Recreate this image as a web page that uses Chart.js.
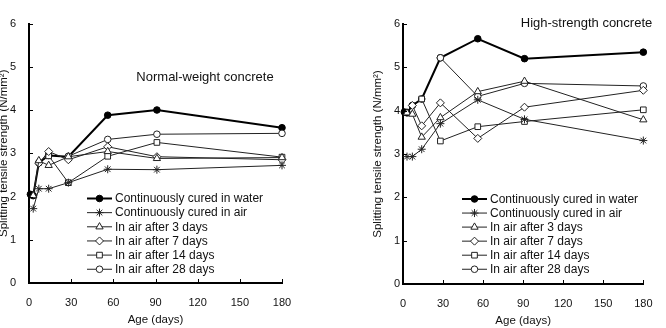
<!DOCTYPE html>
<html>
<head>
<meta charset="utf-8">
<script src="https://cdn.jsdelivr.net/npm/chart.js@4.4.1/dist/chart.umd.min.js"></script>
<style>
body{margin:0;width:666px;height:328px;overflow:hidden;background:#fff;position:relative}
.box{position:absolute;top:0}
</style>
</head>
<body>
<div class="box" style="left:-5px"><canvas id="c1" width="338" height="328"></canvas></div>
<div class="box" style="left:333px"><canvas id="c2" width="333" height="328"></canvas></div>
<script>
// legend labels
var labels = ["Continuously cured in water", "Continuously cured in air", "In air after 3 days",
	"In air after 7 days", "In air after 14 days", "In air after 28 days"];

// Normal-weight concrete (days / N/mm2)
var nwWaterDays = [1, 3, 7, 14, 28, 56, 91, 180];
var nwWater     = [2.05, 2.02, 2.78, 2.95, 2.92, 3.88, 4.0, 3.59];
var nwAirDays   = [3, 7, 14, 28, 56, 91, 180];
var nwAir       = [1.72, 2.18, 2.18, 2.32, 2.63, 2.62, 2.72];
var nwAir3Days  = [3, 7, 14, 28, 56, 91, 180];
var nwAir3      = [2.02, 2.83, 2.72, 2.92, 3.04, 2.88, 2.9];
var nwAir7Days  = [7, 14, 28, 56, 91, 180];
var nwAir7      = [2.77, 3.04, 2.85, 3.15, 2.92, 2.85];
var nwAir14Days = [14, 28, 56, 91, 180];
var nwAir14     = [2.94, 2.32, 2.93, 3.25, 2.91];
var nwAir28Days = [28, 56, 91, 180];
var nwAir28     = [2.93, 3.32, 3.44, 3.46];

// High-strength concrete
var hsWaterDays = [1, 3, 7, 14, 28, 56, 91, 180];
var hsWater     = [3.97, 3.95, 4.12, 4.27, 5.22, 5.66, 5.2, 5.35];
var hsAirDays   = [3, 7, 14, 28, 56, 91, 180];
var hsAir       = [2.94, 2.94, 3.11, 3.7, 4.25, 3.8, 3.31];
var hsAir3Days  = [3, 7, 14, 28, 56, 91, 180];
var hsAir3      = [3.95, 3.92, 3.39, 3.84, 4.44, 4.68, 3.79];
var hsAir7Days  = [7, 14, 28, 56, 91, 180];
var hsAir7      = [4.12, 3.65, 4.18, 3.36, 4.08, 4.47];
var hsAir14Days = [14, 28, 56, 91, 180];
var hsAir14     = [4.27, 3.3, 3.63, 3.75, 4.02];
var hsAir28Days = [28, 56, 91, 180];
var hsAir28     = [5.22, 4.33, 4.63, 4.57];

var xTicks = [0, 30, 60, 90, 120, 150, 180];
var yTicks = [0, 1, 2, 3, 4, 5, 6];

var styles = ["circle", "star", "triangle", "rectRot", "rect", "circle"];
var radii = [3.3, 4, 4.2, 4, 4, 3.3];

function pts(days, vals)
{
	return days.map(function(d, i){ return {x: d, y: vals[i]}; });
}

function makeSets(series)
{
	var sets = [];
	for(let i=0;i<series.length;i++)
	{
		sets.push({
			label: labels[i],
			data: pts(series[i][0], series[i][1]),
			borderColor: i == 0 ? "#000" : "#222",
			borderWidth: i == 0 ? 2 : 1,
			pointStyle: styles[i],
			pointRadius: radii[i],
			pointBorderWidth: 1,
			pointBorderColor: i == 0 ? "#000" : "#222",
			pointBackgroundColor: i == 0 ? "#000" : "#fff",
			tension: 0,
			clip: false,
			order: i == 0 ? 10 : 0
		});
	}
	return sets;
}

function marker(ctx, style, r, x, y)
{
	if(Chart.helpers && Chart.helpers.drawPoint)
	{
		Chart.helpers.drawPoint(ctx, {pointStyle: style, radius: r, rotation: 0, borderWidth: 1}, x, y);
		return;
	}
	ctx.beginPath();
	ctx.arc(x, y, r, 0, Math.PI*2);
	ctx.fill();
	ctx.stroke();
}

// inward ticks, note text and legend
var extras = {
	id: "extras",
	afterDraw: function(chart, args, o)
	{
		var ctx = chart.ctx;
		var xs = chart.scales.x, ys = chart.scales.y, a = chart.chartArea;
		ctx.save();
		ctx.strokeStyle = "#000";
		ctx.lineWidth = 1;
		ctx.beginPath();
		yTicks.forEach(function(v){
			var p = Math.round(ys.getPixelForValue(v)) + 0.5;
			ctx.moveTo(a.left, p); ctx.lineTo(a.left + 4, p);
		});
		xTicks.forEach(function(v){
			var p = Math.round(xs.getPixelForValue(v)) + 0.5;
			ctx.moveTo(p, a.bottom); ctx.lineTo(p, a.bottom - 4);
		});
		ctx.stroke();

		ctx.fillStyle = "#111";
		ctx.font = '13px "Liberation Sans"';
		ctx.textAlign = "center";
		ctx.textBaseline = "middle";
		ctx.fillText(o.note, o.noteX, o.noteY);

		ctx.font = '12px "Liberation Sans"';
		ctx.textAlign = "left";
		chart.data.datasets.forEach(function(ds, i){
			var y = o.legY + i * o.legStep;
			ctx.strokeStyle = ds.borderColor;
			ctx.lineWidth = ds.borderWidth;
			ctx.beginPath();
			ctx.moveTo(o.legX, y); ctx.lineTo(o.legX + 25, y);
			ctx.stroke();
			ctx.fillStyle = ds.pointBackgroundColor;
			ctx.strokeStyle = ds.pointBorderColor;
			ctx.lineWidth = 1;
			marker(ctx, ds.pointStyle, ds.pointRadius, o.legX + 12.5, y);
			ctx.fillStyle = "#111";
			ctx.fillText(ds.label, o.legX + 28, y + 0.5);
		});
		ctx.restore();
	}
};

function makeChart(id, series, o)
{
	var ctx = document.getElementById(id).getContext("2d");
	return new Chart(ctx, {
		type: "line",
		data: { datasets: makeSets(series) },
		options: {
			responsive: false,
			animation: false,
			layout: { padding: { left: o.padLeft, right: o.padRight, top: o.padTop, bottom: 0 } },
			plugins: {
				legend: { display: false },
				tooltip: { enabled: false },
				extras: o
			},
			scales: {
				x: {
					type: "linear", min: 0, max: 180,
					afterFit: function(s){ s.height = o.xHeight; },
					afterBuildTicks: function(s){ s.ticks = xTicks.map(function(v){ return {value: v}; }); },
					grid: { display: false, drawTicks: false },
					border: { display: true, color: "#000", width: 2 },
					ticks: { color: "#111", padding: o.xTickPad, font: { family: "Liberation Sans", size: 11 } },
					title: { display: true, text: "Age (days)", color: "#111", padding: { top: 0, bottom: o.xTitlePad },
						font: { family: "Liberation Sans", size: 11.5 } }
				},
				y: {
					min: 0, max: 6,
					afterFit: function(s){ s.width = o.yWidth; },
					afterBuildTicks: function(s){ s.ticks = yTicks.map(function(v){ return {value: v}; }); },
					grid: { display: false, drawTicks: false },
					border: { display: true, color: "#000", width: 2 },
					ticks: { color: "#111", padding: o.yTickPad, font: { family: "Liberation Sans", size: 11 } },
					title: { display: true, text: "Splitting tensile strength (N/mm\u00b2)", color: "#111", padding: { top: o.yTitlePad, bottom: 0 },
						font: { family: "Liberation Sans", size: 11.5 } }
				}
			}
		},
		plugins: [extras]
	});
}

makeChart("c1", [
	[nwWaterDays, nwWater], [nwAirDays, nwAir], [nwAir3Days, nwAir3],
	[nwAir7Days, nwAir7], [nwAir14Days, nwAir14], [nwAir28Days, nwAir28]
], {
	padLeft: 0, yWidth: 34, padRight: 51, padTop: 23.5, xHeight: 45,
	yTickPad: 13, xTickPad: 13, xTitlePad: 1, yTitlePad: 2,
	note: "Normal-weight concrete", noteX: 210, noteY: 77,
	legX: 92, legY: 198.5, legStep: 14.15
});

makeChart("c2", [
	[hsWaterDays, hsWater], [hsAirDays, hsAir], [hsAir3Days, hsAir3],
	[hsAir7Days, hsAir7], [hsAir14Days, hsAir14], [hsAir28Days, hsAir28]
], {
	padLeft: 34, yWidth: 36, padRight: 11, padTop: 24, xHeight: 44,
	yTickPad: 3, xTickPad: 13.5, xTitlePad: 0, yTitlePad: 4,
	note: "High-strength concrete", noteX: 253.5, noteY: 23.5,
	legX: 129, legY: 199, legStep: 14.05
});
</script>
</body>
</html>
